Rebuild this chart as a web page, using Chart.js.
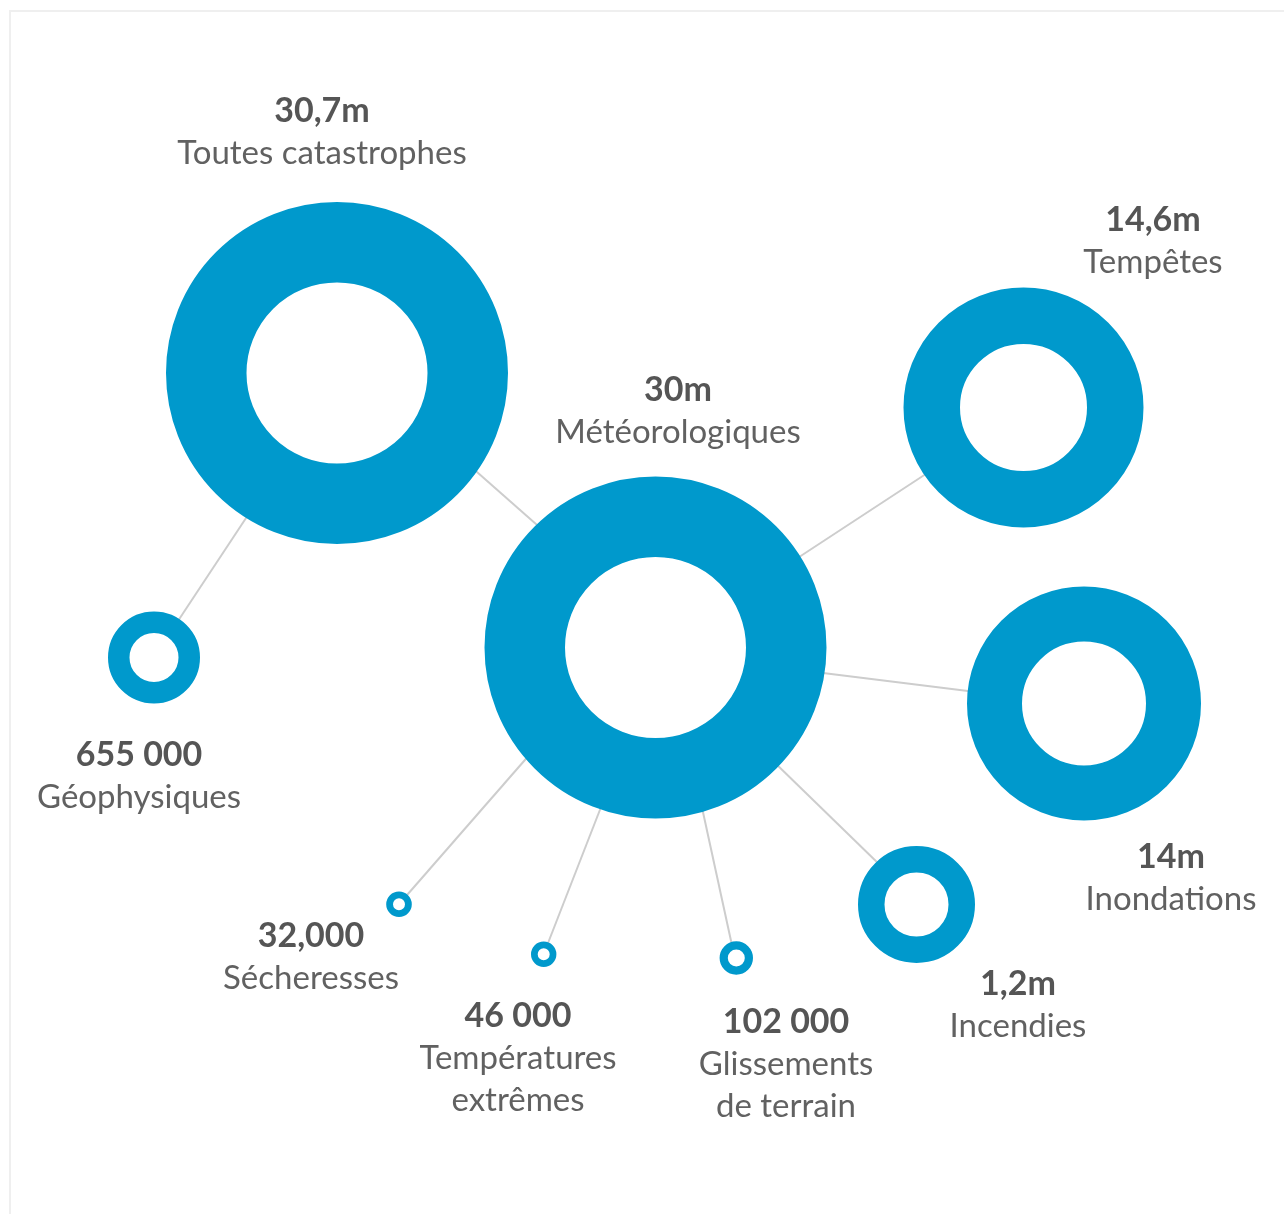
<!DOCTYPE html>
<html><head><meta charset="utf-8">
<script src="https://cdn.jsdelivr.net/npm/chart.js@4.4.1/dist/chart.umd.min.js"></script>
<style>
html,body{margin:0;padding:0;background:#fff;}
#wrap{position:relative;width:1284px;height:1214px;overflow:hidden;}
#frame{position:absolute;left:9px;top:10px;right:-10px;bottom:-10px;border-left:2px solid #efefef;border-top:2px solid #efefef;}
canvas{position:absolute;left:0;top:0;}
</style></head><body>
<div id="wrap"><div id="frame"></div><canvas id="c" width="1284" height="1214"></canvas></div>
<script>
// ---- data ----
const categories = ["Toutes catastrophes","Météorologiques","Tempêtes","Inondations","Incendies","Géophysiques","Sécheresses","Températures extrêmes","Glissements de terrain"];
const values = [30700000, 30000000, 14600000, 14000000, 1200000, 655000, 32000, 46000, 102000];
const valueLabels = ["30,7m","30m","14,6m","14m","1,2m","655 000","32,000","46 000","102 000"];
const nameLines = [["Toutes catastrophes"],["Météorologiques"],["Tempêtes"],["Inondations"],["Incendies"],["Géophysiques"],["Sécheresses"],["Températures","extrêmes"],["Glissements","de terrain"]];
const links = [[0,1],[0,5],[1,2],[1,3],[1,4],[1,6],[1,7],[1,8]];

// ---- layout (positions in the hidden linear scales, ring sizes in px) ----
const layout = {
  nodes: [[337,373],[655.5,647.5],[1023.5,407.5],[1084,703.5],[916.5,904.5],[154,657.5],[399,904.3],[543.7,954.2],[736.3,958]],
  rings: [[171,90.5],[171,90.5],[120,63.5],[117,62],[58.5,32],[46,24.5],[12.8,6],[12.7,6],[16.7,8.5]],
  linkEnds: [
    [[469,465],[545,532]],
    [[252,509],[172,630]],
    [[790,563],[935,468]],
    [[815,672],[980,692.5]],
    [[772,760],[882,867]],
    [[531,753],[404,898.5]],
    [[603,802],[545.5,949.5]],
    [[701,803],[733,950]]
  ],
  labelAnchors: [[322,122],[678,401],[1153,231],[1171,868],[1018,995],[139,766],[311,947],[518,1027],[786,1033]]
};

const BLUE = '#0099cc';
const FONT = 'Lato';

const labelPlugin = {
  id: 'nodeLabels',
  afterDatasetsDraw(chart) {
    const {ctx, scales: {x, y}} = chart;
    ctx.save();
    ctx.textAlign = 'center';
    ctx.textBaseline = 'alphabetic';
    categories.forEach((c, i) => {
      const a = layout.labelAnchors[i];
      const px = x.getPixelForValue(a[0]), py = y.getPixelForValue(a[1]);
      ctx.font = `bold 34px ${FONT}`;
      ctx.fillStyle = '#555555';
      ctx.fillText(valueLabels[i], px, py);
      ctx.font = `33px ${FONT}`;
      ctx.fillStyle = '#616161';
      nameLines[i].forEach((t, k) => ctx.fillText(t, px, py + 42 * (k + 1)));
    });
    ctx.restore();
  }
};

const lineSets = links.map((l, i) => ({
  type: 'line',
  label: categories[l[0]] + ' → ' + categories[l[1]],
  data: layout.linkEnds[i].map(p => ({x: p[0], y: p[1]})),
  borderColor: '#cdcdcd',
  borderWidth: 2,
  pointRadius: 0,
  fill: false,
  clip: false,
  order: 2
}));

const ringSet = {
  type: 'scatter',
  label: 'Personnes touchées',
  data: layout.nodes.map((n, i) => ({x: n[0], y: n[1], v: values[i]})),
  pointRadius: layout.rings.map(r => (r[0] + r[1]) / 2),
  pointBorderWidth: layout.rings.map(r => r[0] - r[1]),
  pointBackgroundColor: '#ffffff',
  pointBorderColor: BLUE,
  pointHoverRadius: layout.rings.map(r => (r[0] + r[1]) / 2),
  showLine: false,
  clip: false,
  order: 1
};

const chart = new Chart(document.getElementById('c'), {
  type: 'scatter',
  data: {datasets: [...lineSets, ringSet]},
  options: {
    responsive: false,
    animation: false,
    events: [],
    layout: {padding: 0, autoPadding: false},
    plugins: {legend: {display: false}, tooltip: {enabled: false}},
    scales: {
      x: {type: 'linear', min: 0, max: 1284, display: false},
      y: {type: 'linear', min: 0, max: 1214, reverse: true, display: false}
    }
  },
  plugins: [labelPlugin]
});
if (document.fonts && document.fonts.ready) document.fonts.ready.then(() => chart.draw());
</script>
</body></html>
